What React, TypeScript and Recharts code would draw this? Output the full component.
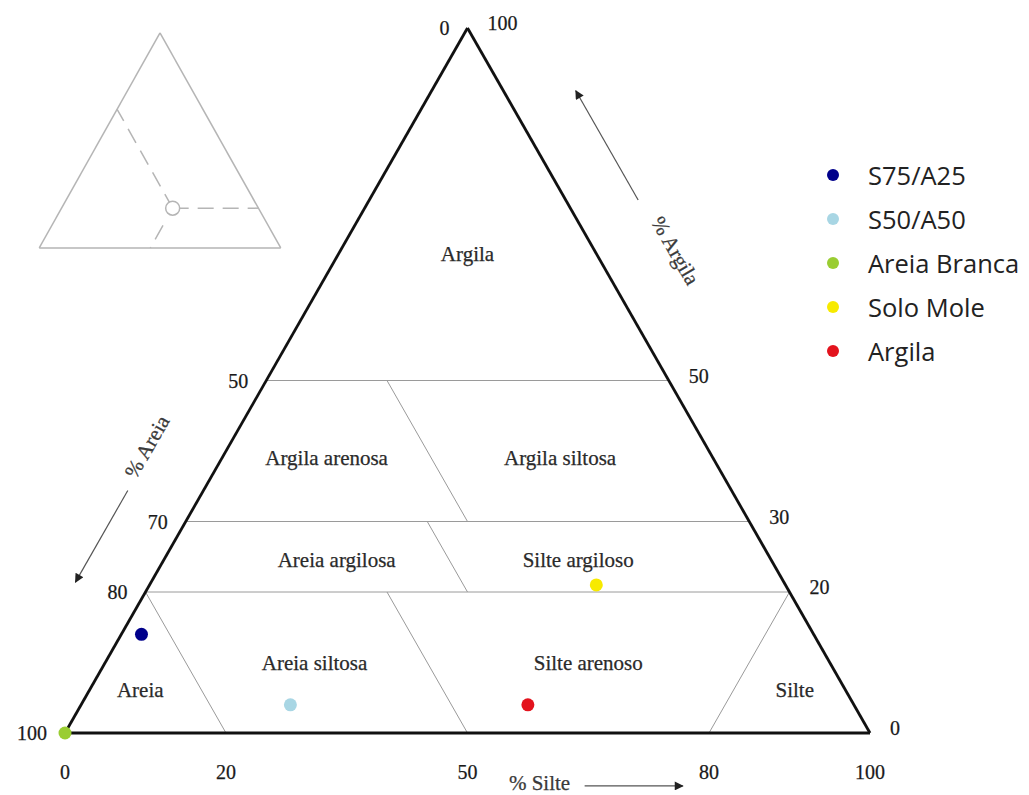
import React from 'react';
import {
  ScatterChart,
  Scatter,
  XAxis,
  YAxis,
  ReferenceLine,
  ReferenceDot,
  Legend,
} from 'recharts';

// composição granulométrica: [areia, silte, argila] em %
type Comp = [number, number, number];

const CHART_W = 1029;
const CHART_H = 795;
// moldura do triângulo dentro do gráfico (px)
const TRI_LEFT = 65;
const TRI_RIGHT = 870;
const TRI_TOP = 28;
const TRI_BOTTOM = 733;
const PX_X = (TRI_RIGHT - TRI_LEFT) / 100;
const PX_Y = (TRI_BOTTOM - TRI_TOP) / 100;
const X_DOMAIN = [-TRI_LEFT / PX_X, (CHART_W - TRI_LEFT) / PX_X];
const Y_DOMAIN = [-(CHART_H - TRI_BOTTOM) / PX_Y, TRI_BOTTOM / PX_Y];

const SERIF = '"Liberation Serif", "Times New Roman", serif';
const SANS = '"Open Sans", "Noto Sans", sans-serif';

// amostras
const SAMPLE_NAMES = ['S75/A25', 'S50/A50', 'Areia Branca', 'Solo Mole', 'Argila'];
const SAMPLE_COLORS = ['#00008b', '#a8d6e4', '#9acd32', '#f7ea00', '#e3131d'];
const SAMPLE_AREIA = [83.5, 70, 100, 23.5, 40.5];
const SAMPLE_SILTE = [2.5, 26, 0, 55.5, 55.5];
const SAMPLE_ARGILA = [14, 4, 0, 21, 4];

// classes texturais e onde o nome é escrito
const CLASS_NAMES = [
  'Argila',
  'Argila arenosa',
  'Argila siltosa',
  'Areia argilosa',
  'Silte argiloso',
  'Areia siltosa',
  'Silte arenoso',
  'Areia',
  'Silte',
];
const CLASS_LABEL_AT: Comp[] = [
  [16, 16, 68],
  [48, 13, 39],
  [19, 42, 39],
  [54, 21.5, 24.5],
  [24, 51.5, 24.5],
  [64, 26, 10],
  [30, 60, 10],
  [87.6, 6.3, 6.1],
  [6.3, 87.6, 6.1],
];

const TRIANGLE_EDGES: [Comp, Comp][] = [
  [[100, 0, 0], [0, 0, 100]],
  [[0, 0, 100], [0, 100, 0]],
  [[0, 100, 0], [100, 0, 0]],
];

const CLASS_LIMITS: [Comp, Comp][] = [
  [[50, 0, 50], [0, 50, 50]],
  [[70, 0, 30], [0, 70, 30]],
  [[80, 0, 20], [0, 80, 20]],
  [[35, 15, 50], [35, 35, 30]],
  [[40, 30, 30], [40, 40, 20]],
  [[80, 0, 20], [80, 20, 0]],
  [[50, 30, 20], [50, 50, 0]],
  [[20, 80, 0], [0, 80, 20]],
];

// marcas dos três lados
const AREIA_TICKS = [0, 50, 70, 80, 100];
const ARGILA_TICKS = [100, 50, 30, 20, 0];
const SILTE_TICKS = [0, 20, 50, 80, 100];

// títulos dos eixos com as setas de sentido
const AXIS_TITLES = ['% Areia', '% Argila', '% Silte'];
const AXIS_TITLE_AT: Comp[] = [
  [69.5, -10.1, 40.6],
  [-10, 41.6, 68.4],
  [44.6, 62.5, -7.1],
];
const AXIS_TITLE_ANGLE = [-60, 60, 0];
const AXIS_ARROWS: [Comp, Comp][] = [
  [[75, -9.4, 34.4], [88, -9.4, 21.4]],
  [[-9, 33.4, 75.6], [-9, 17.9, 91.1]],
  [[39.2, 68.3, -7.5], [27, 80.5, -7.5]],
];

// miniatura explicativa no canto
const INSET_ORIGIN = { x: -3.2, y: 68.8 };
const INSET_SCALE_X = 0.3;
const INSET_SCALE_Y = 0.305;
const INSET_SAMPLE: Comp = [35.5, 46, 18.5];
const INSET_GUIDES: [Comp, Comp][] = [
  [INSET_SAMPLE, [0, 81.5, 18.5]],
  [INSET_SAMPLE, [35.5, 0, 64.5]],
  [[43.5, 46, 10.5], [54, 46, 0]],
];

const toXY = ([, silte, argila]: Comp) => ({ x: silte + argila / 2, y: argila });
const insetXY = ([, silte, argila]: Comp) => ({
  x: INSET_ORIGIN.x + INSET_SCALE_X * (silte + argila / 2),
  y: INSET_ORIGIN.y + INSET_SCALE_Y * argila,
});

const samples = SAMPLE_NAMES.map((name, i) => ({
  name,
  color: SAMPLE_COLORS[i],
  data: [toXY([SAMPLE_AREIA[i], SAMPLE_SILTE[i], SAMPLE_ARGILA[i]])],
}));

const classLabels = CLASS_NAMES.map((text, i) => ({ ...toXY(CLASS_LABEL_AT[i]), text }));
const areiaLabels = AREIA_TICKS.map((t) => ({ ...toXY([t, 0, 100 - t]), text: String(t) }));
const argilaLabels = ARGILA_TICKS.map((t) => ({ ...toXY([0, 100 - t, t]), text: String(t) }));
const silteLabels = SILTE_TICKS.map((t) => ({ ...toXY([100 - t, t, 0]), text: String(t) }));
const axisTitles = AXIS_TITLES.map((text, i) => ({
  ...toXY(AXIS_TITLE_AT[i]),
  text,
  angle: AXIS_TITLE_ANGLE[i],
}));

const textShape =
  (opts: { anchor: string; dx?: number; dy?: number; size: number; color: string; family: string }) =>
  (props: any) => {
    const { cx, cy, payload } = props;
    const angle = payload.angle || 0;
    return (
      <text
        x={cx + (opts.dx || 0)}
        y={cy + (opts.dy || 0)}
        textAnchor={opts.anchor}
        dominantBaseline="central"
        fontFamily={opts.family}
        fontSize={opts.size}
        fill={opts.color}
        stroke={opts.color}
        strokeWidth={0.25}
        transform={angle ? `rotate(${angle} ${cx} ${cy})` : undefined}
      >
        {payload.text}
      </text>
    );
  };

function LegendBox({ payload }: any) {
  const items = (payload || [])
    .filter((p: any) => SAMPLE_NAMES.includes(p.value))
    .sort((a: any, b: any) => SAMPLE_NAMES.indexOf(a.value) - SAMPLE_NAMES.indexOf(b.value));
  return (
    <div style={{ fontFamily: SANS, fontSize: 25.5, color: '#222' }}>
      {items.map((p: any) => (
        <div key={p.value} style={{ display: 'flex', alignItems: 'center', height: 44 }}>
          <svg width={22} height={16} style={{ marginRight: 24 }}>
            <circle cx={11} cy={8} r={6} fill={p.color} />
          </svg>
          <span>{p.value}</span>
        </div>
      ))}
    </div>
  );
}

export default function App() {
  return (
    <div style={{ position: 'absolute', left: 0, top: 0, width: CHART_W, height: CHART_H, background: '#fff' }}>
      <ScatterChart width={CHART_W} height={CHART_H} margin={{ top: 0, right: 0, bottom: 0, left: 0 }}>
        <defs>
          <marker
            id="arrowHead"
            viewBox="0 0 10 10"
            refX="9"
            refY="5"
            markerUnits="userSpaceOnUse"
            markerWidth="11"
            markerHeight="9"
            orient="auto"
          >
            <path d="M0,0 L10,5 L0,10 z" fill="#222" />
          </marker>
        </defs>
        <XAxis type="number" dataKey="x" domain={X_DOMAIN} allowDataOverflow hide />
        <YAxis type="number" dataKey="y" domain={Y_DOMAIN} allowDataOverflow hide />

        {/* miniatura */}
        {TRIANGLE_EDGES.map(([a, b], i) => (
          <ReferenceLine key={`ie${i}`} segment={[insetXY(a), insetXY(b)]} stroke="#b5b5b5" strokeWidth={1.5} />
        ))}
        {INSET_GUIDES.map(([a, b], i) => (
          <ReferenceLine
            key={`ig${i}`}
            segment={[insetXY(a), insetXY(b)]}
            stroke="#b5b5b5"
            strokeWidth={1.5}
            strokeDasharray="16 9"
          />
        ))}
        <ReferenceDot {...insetXY(INSET_SAMPLE)} r={7} fill="#fff" stroke="#b5b5b5" strokeWidth={1.5} />

        {/* limites das classes */}
        {CLASS_LIMITS.map(([a, b], i) => (
          <ReferenceLine key={`cl${i}`} segment={[toXY(a), toXY(b)]} stroke="#9a9a9a" strokeWidth={1} />
        ))}
        {TRIANGLE_EDGES.map(([a, b], i) => (
          <ReferenceLine key={`te${i}`} segment={[toXY(a), toXY(b)]} stroke="#111" strokeWidth={2.8} />
        ))}
        {AXIS_ARROWS.map(([a, b], i) => (
          <ReferenceLine
            key={`ar${i}`}
            segment={[toXY(a), toXY(b)]}
            stroke="#555"
            strokeWidth={1.2}
            markerEnd="url(#arrowHead)"
          />
        ))}

        <Scatter
          data={classLabels}
          legendType="none"
          isAnimationActive={false}
          shape={textShape({ anchor: 'middle', size: 21, color: '#2a2a2a', family: SERIF })}
        />
        <Scatter
          data={areiaLabels}
          legendType="none"
          isAnimationActive={false}
          shape={textShape({ anchor: 'end', dx: -18, dy: 0, size: 20, color: '#1a1a1a', family: SERIF })}
        />
        <Scatter
          data={argilaLabels}
          legendType="none"
          isAnimationActive={false}
          shape={textShape({ anchor: 'start', dx: 20, dy: -5, size: 20, color: '#1a1a1a', family: SERIF })}
        />
        <Scatter
          data={silteLabels}
          legendType="none"
          isAnimationActive={false}
          shape={textShape({ anchor: 'middle', dy: 39, size: 20, color: '#1a1a1a', family: SERIF })}
        />
        <Scatter
          data={axisTitles}
          legendType="none"
          isAnimationActive={false}
          shape={textShape({ anchor: 'middle', size: 21, color: '#3a3a3a', family: SERIF })}
        />

        {samples.map((s) => (
          <Scatter
            key={s.name}
            name={s.name}
            data={s.data}
            fill={s.color}
            isAnimationActive={false}
            shape={(p: any) => <circle cx={p.cx} cy={p.cy} r={6.5} fill={s.color} />}
          />
        ))}

        <Legend
          layout="vertical"
          align="center"
          verticalAlign="middle"
          wrapperStyle={{ position: 'absolute', left: 822, top: 153, width: 207 }}
          content={(props: any) => <LegendBox {...props} />}
        />
      </ScatterChart>
    </div>
  );
}
